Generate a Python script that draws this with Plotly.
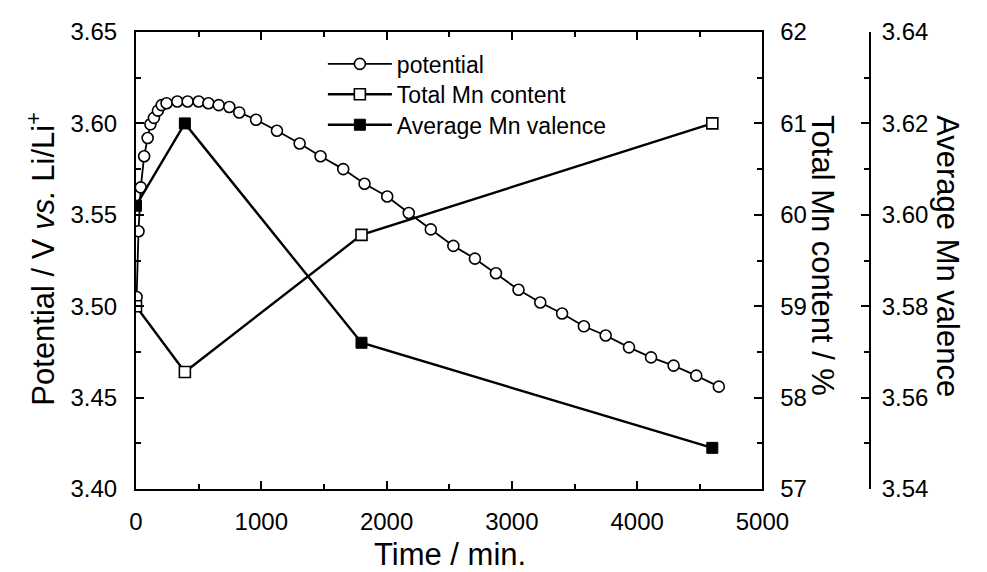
import plotly.graph_objects as go

# ---- data ----
pot_time = [5, 20, 38, 65, 93, 115, 143, 175, 205, 244, 330, 412, 500, 578, 660, 745,
            824, 958, 1125, 1306, 1473, 1654, 1824, 2005, 2177, 2353, 2533, 2705, 2873,
            3053, 3227, 3401, 3575, 3749, 3935, 4111, 4291, 4472, 4652]
pot_value = [3.505, 3.541, 3.565, 3.582, 3.592, 3.5995, 3.603, 3.607, 3.610, 3.611, 3.612,
             3.612, 3.612, 3.611, 3.610, 3.609, 3.606, 3.602, 3.596, 3.589, 3.582, 3.575,
             3.567, 3.560, 3.551, 3.542, 3.533, 3.526, 3.518, 3.509, 3.502, 3.496, 3.489,
             3.484, 3.4775, 3.472, 3.4675, 3.462, 3.456]

mn_time = [0, 390, 1800, 4600]
mn_content = [59.0, 58.28, 59.78, 61.0]
mn_valence = [3.602, 3.620, 3.572, 3.549]

x_ticks = [0, 1000, 2000, 3000, 4000, 5000]

FONT = "Liberation Sans, Arial, sans-serif"
TICK = 24
TITLE = 31

W, H = 987, 572
ML, MR, MT, MB = 128, 10, 23, 91
PW = W - ML - MR
PH = H - MT - MB
def px(x):
    return (x - ML) / PW
def py(y):
    return (H - MB - y) / PH

fig = go.Figure()
fig.add_trace(go.Scatter(
    x=pot_time, y=pot_value, name="potential", mode="lines+markers",
    line=dict(color="black", width=1.8),
    marker=dict(symbol="circle", size=11, color="white", line=dict(color="black", width=1.6)),
    legend="legend", yaxis="y"))
fig.add_trace(go.Scatter(
    x=mn_time, y=mn_content, name="Total Mn content", mode="lines+markers",
    line=dict(color="black", width=2.4),
    marker=dict(symbol="square", size=11, color="white", line=dict(color="black", width=1.6)),
    legend="legend2", yaxis="y2"))
fig.add_trace(go.Scatter(
    x=mn_time, y=mn_valence, name="Average Mn valence", mode="lines+markers",
    line=dict(color="black", width=2.4),
    marker=dict(symbol="square", size=11, color="black", line=dict(color="black", width=1)),
    legend="legend3", yaxis="y3"))

axis_common = dict(showline=True, linecolor="black", linewidth=2, showgrid=False,
                   zeroline=False, ticks="inside", ticklen=8, tickwidth=1.5,
                   tickcolor="black", tickfont=dict(family=FONT, size=TICK, color="black"))
minor_common = dict(ticks="inside", ticklen=5, tickwidth=1.5, tickcolor="black")

x_right = px(775)
fig.update_layout(
    width=W, height=H, margin=dict(l=ML, r=MR, t=MT, b=MB),
    paper_bgcolor="white", plot_bgcolor="white",
    font=dict(family=FONT, color="black"),
    xaxis=dict(range=[0, 5000], domain=[0, x_right], tickvals=x_ticks,
               mirror="ticks", ticklabelstandoff=10,
               minor=dict(dtick=500, **minor_common), **axis_common),
    yaxis=dict(range=[3.40, 3.65], dtick=0.05, tickformat=".2f", ticklabelstandoff=12,
               minor=dict(dtick=0.025, **minor_common), **axis_common),
    yaxis2=dict(range=[57, 62], dtick=1, overlaying="y", side="right", anchor="x",
                ticklabelstandoff=11,
                minor=dict(dtick=0.5, **minor_common), **axis_common),
    yaxis3=dict(range=[3.54, 3.64], dtick=0.02, tickformat=".2f", overlaying="y",
                side="right", anchor="free", position=px(886), ticklabelstandoff=6,
                minor=dict(dtick=0.01, **minor_common), **axis_common),
    showlegend=True,
)

leg_common = dict(bgcolor="rgba(0,0,0,0)", borderwidth=0, xanchor="left", yanchor="middle",
                  font=dict(family=FONT, size=23, color="black"), itemwidth=64)
fig.update_layout(
    legend=dict(x=px(321), y=py(55), **leg_common),
    legend2=dict(x=px(321), y=py(85.5), **leg_common),
    legend3=dict(x=px(321), y=py(116), **leg_common),
)

ann = [
    dict(text="Potential / V <i>vs.</i> Li/Li<sup>+</sup>", x=px(29), y=py(250),
         textangle=-90, yanchor="middle"),
    dict(text="Time / min.", x=px(452), y=py(566), textangle=0, yanchor="bottom"),
    dict(text="Total Mn content / %", x=px(837), y=py(247), textangle=90, yanchor="middle"),
    dict(text="Average Mn valence", x=px(966), y=py(248), textangle=90, yanchor="middle"),
]
for a in ann:
    fig.add_annotation(xref="paper", yref="paper", showarrow=False, xanchor="center",
                       font=dict(family=FONT, size=TITLE, color="black"), **a)

fig.write_html("out.html")
